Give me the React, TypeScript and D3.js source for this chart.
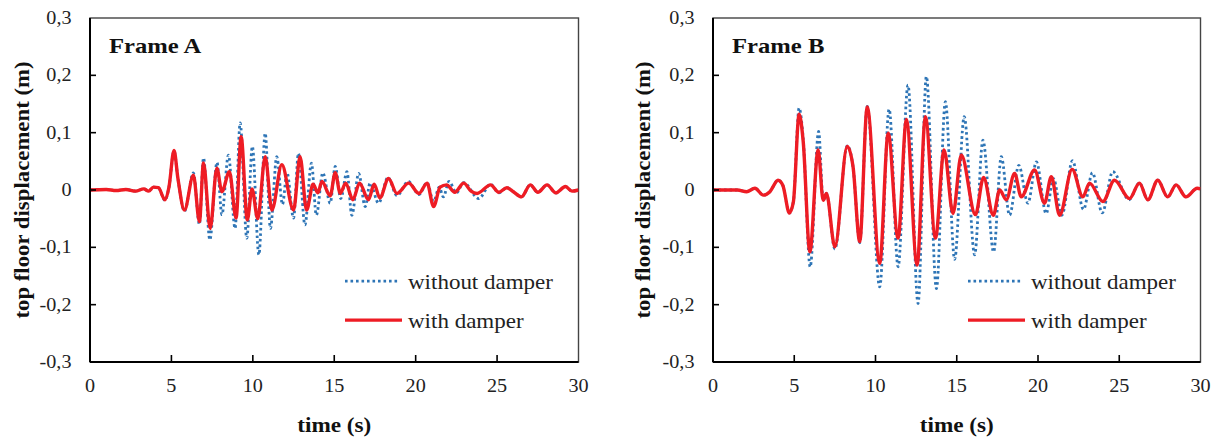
import React from "react";
import * as d3 from "d3";

// ---------- DATA ----------
const xTicks = [0, 5, 10, 15, 20, 25, 30];
const yTicks = [-0.3, -0.2, -0.1, 0, 0.1, 0.2, 0.3];
const yTickLabels = ["-0,3", "-0,2", "-0,1", "0", "0,1", "0,2", "0,3"];
const panelTitles = ["Frame A", "Frame B"];
const seriesNames = ["without damper", "with damper"];
const xLabel = "time (s)";
const yLabel = "top floor displacement (m)";

// Frame A – with damper [time s, displacement m]
const frameAWith: [number, number][] = [
  [0, 0], [1.0, 0.001], [1.6, -0.001], [2.2, 0.001], [2.8, -0.002], [3.3, 0.002], [3.6, -0.002],
  [3.9, 0.005], [4.2, 0.004], [4.6, -0.017], [4.85, 0.005], [5.16, 0.069], [5.4, 0.02], [5.8, -0.035],
  [6.35, 0.026], [6.72, -0.055], [6.97, 0.047], [7.38, -0.067], [7.79, 0.038], [8.1, -0.003],
  [8.56, 0.032], [8.97, -0.049], [9.28, 0.093], [9.66, -0.052], [9.95, 0.002], [10.3, -0.05],
  [10.76, 0.058], [11.17, -0.035], [11.78, 0.044], [12.5, -0.035], [12.9, 0.058], [13.3, -0.035],
  [13.7, 0.01], [14.0, -0.005], [14.24, 0.015], [14.75, -0.01], [15.06, 0.03], [15.37, -0.006],
  [15.7, 0.012], [16.15, -0.017], [16.55, 0.012], [17.1, -0.017], [17.45, 0.01], [17.8, -0.014],
  [18.33, 0.02], [18.85, -0.006], [19.57, 0.012], [20.2, -0.006], [20.7, 0.012], [21.1, -0.029],
  [21.5, 0.005], [21.9, 0.009], [22.4, -0.004], [22.95, 0.012], [23.4, -0.002], [23.77, -0.006],
  [24.6, 0.009], [25.1, -0.004], [25.6, 0.004], [26.0, -0.003], [26.5, -0.012], [27.04, 0.009],
  [27.5, -0.004], [28.07, 0.009], [28.6, -0.005], [29.2, 0.006], [29.6, -0.002], [30, 0],
];

// Frame A – without damper
const frameAWithout: [number, number][] = [
  [0, 0], [1.0, 0.001], [1.6, -0.001], [2.2, 0.001], [2.8, -0.002], [3.3, 0.002], [3.6, -0.002],
  [3.9, 0.005], [4.2, 0.004], [4.6, -0.018], [4.85, 0.005], [5.16, 0.068], [5.4, 0.02], [5.8, -0.037],
  [6.35, 0.03], [6.72, -0.06], [6.97, 0.056], [7.36, -0.087], [7.8, 0.048], [8.1, -0.043],
  [8.5, 0.061], [8.91, -0.067], [9.22, 0.117], [9.63, -0.084], [9.97, 0.076], [10.37, -0.113],
  [10.76, 0.099], [11.08, -0.067], [11.47, 0.058], [11.82, -0.025], [12.1, 0.03], [12.5, -0.049],
  [12.8, 0.064], [13.2, -0.061], [13.6, 0.047], [13.9, -0.044], [14.3, 0.03], [14.75, -0.023],
  [15.06, 0.041], [15.4, -0.015], [15.78, 0.032], [16.08, -0.044], [16.5, 0.029], [16.9, -0.029],
  [17.2, 0.012], [17.72, -0.023], [18.3, 0.022], [18.85, -0.01], [19.55, 0.015], [20.2, -0.008],
  [20.7, 0.013], [21.1, -0.02], [21.45, 0.005], [21.7, -0.012], [22.05, 0.015], [22.5, -0.005],
  [22.95, 0.013], [23.87, -0.015], [24.6, 0.01], [25.1, -0.005], [25.6, 0.004], [26.0, -0.003],
  [26.5, -0.012], [27.04, 0.009], [27.5, -0.004], [28.07, 0.009], [28.6, -0.005], [29.2, 0.006],
  [29.6, -0.002], [30, 0],
];

// Frame B – with damper
const frameBWith: [number, number][] = [
  [0, 0], [1.5, 0], [2.07, -0.003], [2.58, 0.003], [3.1, -0.009], [3.5, -0.003], [4.0, 0.017],
  [4.3, 0.008], [4.7, -0.04], [4.95, -0.02], [5.3, 0.132], [5.55, 0.085], [5.96, -0.108],
  [6.47, 0.07], [6.78, -0.018], [6.98, -0.006], [7.5, -0.099], [8.26, 0.076], [8.62, 0.04],
  [9.03, -0.09], [9.49, 0.145], [10.26, -0.128], [10.78, 0.099], [11.39, -0.084], [11.9, 0.123],
  [12.56, -0.131], [13.07, 0.128], [13.69, -0.084], [14.22, 0.07], [14.77, -0.041], [15.28, 0.061],
  [16.15, -0.043], [16.65, 0.022], [17.25, -0.044], [17.64, 0.0], [18.05, -0.017], [18.56, 0.029],
  [18.97, -0.012], [19.79, 0.035], [20.4, -0.023], [20.82, 0.023], [21.33, -0.044], [22.1, 0.036],
  [22.76, -0.012], [23.17, 0.012], [23.99, -0.02], [24.71, 0.017], [25.63, -0.015], [26.24, 0.012],
  [26.76, -0.017], [27.37, 0.017], [27.98, -0.012], [28.5, 0.009], [29.1, -0.012], [29.8, 0.003],
  [30, 0.002],
];

// Frame B – without damper
const frameBWithout: [number, number][] = [
  [0, 0], [1.5, 0], [2.07, -0.003], [2.58, 0.003], [3.1, -0.009], [3.5, -0.003], [4.0, 0.017],
  [4.3, 0.008], [4.7, -0.04], [4.95, -0.02], [5.3, 0.143], [5.55, 0.09], [5.98, -0.134],
  [6.5, 0.102], [6.78, -0.018], [6.98, -0.006], [7.5, -0.103], [8.26, 0.077], [8.62, 0.04],
  [9.03, -0.092], [9.49, 0.146], [10.26, -0.169], [10.84, 0.141], [11.39, -0.134], [12.0, 0.183],
  [12.62, -0.198], [13.13, 0.198], [13.75, -0.172], [14.3, 0.154], [14.87, -0.121], [15.46, 0.128],
  [16.1, -0.113], [16.61, 0.087], [17.27, -0.108], [17.74, 0.058], [18.25, -0.044], [18.82, 0.043],
  [19.38, -0.023], [19.9, 0.049], [20.5, -0.041], [20.95, 0.02], [21.47, -0.044], [22.12, 0.051],
  [22.8, -0.034], [23.35, 0.03], [23.95, -0.04], [24.6, 0.032], [25.6, -0.017], [26.24, 0.012],
  [26.76, -0.017], [27.37, 0.017], [27.98, -0.012], [28.5, 0.009], [29.1, -0.012], [29.8, 0.003],
  [30, 0.002],
];

// ---------- STYLE ----------
const RED = "#ee1c24";
const BLUE = "#2e75b6";
const FONT = "'Liberation Serif', 'Times New Roman', serif";

type PanelProps = {
  left: number;
  right: number;
  top: number;
  bottom: number;
  title: string;
  withData: [number, number][];
  withoutData: [number, number][];
  yLabelX: number;
};

function Panel({ left, right, top, bottom, title, withData, withoutData, yLabelX }: PanelProps) {
  const x = d3.scaleLinear().domain([0, 30]).range([left, right]);
  const y = d3.scaleLinear().domain([-0.3, 0.3]).range([bottom, top]);
  const line = d3
    .line<[number, number]>()
    .x((d) => x(d[0]))
    .y((d) => y(d[1]))
    .curve(d3.curveMonotoneX);

  const legX0 = left + 255;
  const legX1 = left + 308;
  const legTextX = left + 318;
  const legY1 = y(-0.159);
  const legY2 = y(-0.227);

  return (
    <g>
      <defs>
        <clipPath id={`clip-${title.replace(/\s/g, "")}`}>
          <rect x={left} y={top} width={right - left} height={bottom - top} />
        </clipPath>
      </defs>
      {/* frame */}
      <rect x={left} y={top} width={right - left} height={bottom - top} fill="none" stroke="#444" strokeWidth={1.4} />
      {/* data */}
      <g clipPath={`url(#clip-${title.replace(/\s/g, "")})`}>
        <path d={line(withoutData) || ""} fill="none" stroke={BLUE} strokeWidth={2.8} strokeDasharray="2.6 2.9" />
        <path d={line(withData) || ""} fill="none" stroke={RED} strokeWidth={3.4} strokeLinejoin="round" />
      </g>
      {/* axes */}
      <line x1={left} x2={left} y1={top} y2={bottom} stroke="#000" strokeWidth={2} />
      <line x1={left} x2={right} y1={bottom} y2={bottom} stroke="#000" strokeWidth={2} />
      {yTicks.slice(1, -1).map((t) => (
        <line key={"yt" + t} x1={left} x2={left + 6} y1={y(t)} y2={y(t)} stroke="#000" strokeWidth={1.6} />
      ))}
      {xTicks.slice(1, -1).map((t) => (
        <line key={"xt" + t} x1={x(t)} x2={x(t)} y1={bottom} y2={bottom - 7} stroke="#000" strokeWidth={1.6} />
      ))}
      {/* tick labels */}
      {yTicks.map((t, i) => (
        <text
          key={"yl" + t}
          transform={`translate(${left - 18.5},${y(t) + 6}) scale(1.12,1)`}
          textAnchor="end"
          fontFamily={FONT}
          fontSize={18}
          fill="#222"
        >
          {yTickLabels[i]}
        </text>
      ))}
      {xTicks.map((t) => (
        <text
          key={"xl" + t}
          transform={`translate(${x(t)},392) scale(1.12,1)`}
          textAnchor="middle"
          fontFamily={FONT}
          fontSize={18}
          fill="#222"
        >
          {String(t)}
        </text>
      ))}
      {/* title */}
      <text transform={`translate(${left + 19},53.3) scale(1.12,1)`} fontFamily={FONT} fontSize={22} fontWeight="bold" fill="#111">
        {title}
      </text>
      {/* axis labels */}
      <text
        transform={`translate(${(left + right) / 2},431.7) scale(1.16,1)`}
        textAnchor="middle"
        fontFamily={FONT}
        fontSize={20}
        fontWeight="bold"
        fill="#111"
      >
        {xLabel}
      </text>
      <text
        transform={`translate(${yLabelX},${(top + bottom) / 2}) rotate(-90) scale(1.14,1)`}
        textAnchor="middle"
        fontFamily={FONT}
        fontSize={20}
        fontWeight="bold"
        fill="#111"
      >
        {yLabel}
      </text>
      {/* legend */}
      <line x1={legX0} x2={legX1} y1={legY1} y2={legY1} stroke={BLUE} strokeWidth={2.8} strokeDasharray="2.6 2.9" />
      <text transform={`translate(${legTextX},${legY1 + 8.3}) scale(1.15,1)`} fontFamily={FONT} fontSize={20} fill="#222">
        {seriesNames[0]}
      </text>
      <line x1={legX0} x2={legX1 + 4} y1={legY2} y2={legY2} stroke={RED} strokeWidth={3.4} />
      <text transform={`translate(${legTextX},${legY2 + 7.7}) scale(1.15,1)`} fontFamily={FONT} fontSize={20} fill="#222">
        {seriesNames[1]}
      </text>
    </g>
  );
}

export default function App() {
  return (
    <svg
      width={1216}
      height={439}
      viewBox="0 0 1216 439"
      style={{ position: "absolute", left: 0, top: 0, display: "block", background: "#fff" }}
    >
      <rect x={0} y={0} width={1216} height={439} fill="#fff" />
      <Panel
        left={90}
        right={578.5}
        top={18}
        bottom={362}
        title={panelTitles[0]}
        withData={frameAWith}
        withoutData={frameAWithout}
        yLabelX={28.7}
      />
      <Panel
        left={713}
        right={1200.5}
        top={18}
        bottom={362}
        title={panelTitles[1]}
        withData={frameBWith}
        withoutData={frameBWithout}
        yLabelX={650.4}
      />
    </svg>
  );
}
